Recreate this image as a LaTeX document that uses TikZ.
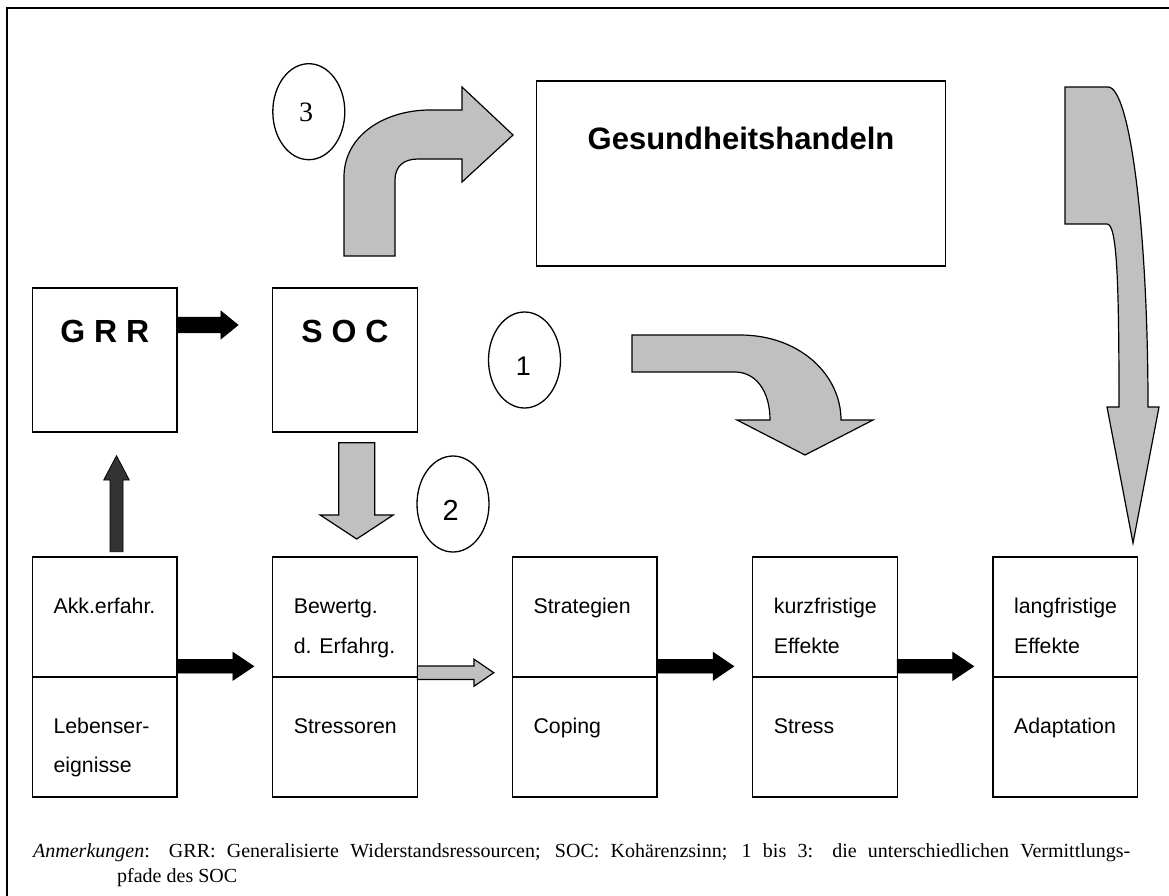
\documentclass[tikz,border=0pt]{standalone}
\usepackage{fontspec}
\setmainfont{Liberation Serif}
\newfontfamily\arial{Liberation Sans}
\usetikzlibrary{shapes.geometric,calc}
\definecolor{arrowgray}{RGB}{192,192,192}
\definecolor{darkarrow}{RGB}{51,51,51}
\newcommand\harrow[6]{%
  \draw[#6] let \p1=(#1), \p2=(#2) in
    (\x1,\y1+#4) -- (\x2-#3,\y1+#4) -- (\x2-#3,\y1+#5) -- (\x2,\y1) --
    (\x2-#3,\y1-#5) -- (\x2-#3,\y1-#4) -- (\x1,\y1-#4) -- cycle;}
\newcommand\darrow[6]{%
  \draw[#6] let \p1=(#1), \p2=(#2) in
    (\x1+#4,\y1) -- (\x1+#4,\y2+#3) -- (\x1+#5,\y2+#3) -- (\x1,\y2) --
    (\x1-#5,\y2+#3) -- (\x1-#4,\y2+#3) -- (\x1-#4,\y1) -- cycle;}
\newcommand\uarrow[6]{%
  \draw[#6] let \p1=(#1), \p2=(#2) in
    (\x1+#4,\y1) -- (\x1+#4,\y2-#3) -- (\x1+#5,\y2-#3) -- (\x1,\y2) --
    (\x1-#5,\y2-#3) -- (\x1-#4,\y2-#3) -- (\x1-#4,\y1) -- cycle;}
\begin{document}
\begin{tikzpicture}[x=1pt,y=-1pt,
  halfbox/.style={draw, line width=1.6pt, minimum width=144.7pt, minimum height=120pt, inner sep=0pt, outer sep=0pt},
  sqbox/.style={draw, line width=1.6pt, minimum width=144.7pt, minimum height=144pt, inner sep=0pt, outer sep=0pt},
  widebox/.style={draw, line width=1.6pt, minimum width=408.7pt, minimum height=185pt, inner sep=0pt, outer sep=0pt},
  lbl/.style={anchor=base west, inner sep=0pt, font=\arial\fontsize{21.3}{25}\selectfont},
  bigbold/.style={anchor=base, inner sep=0pt, font=\arial\bfseries\fontsize{32}{36}\selectfont},
  oval/.style={draw, ellipse, line width=1.3pt, minimum width=72pt, minimum height=96pt, inner sep=0pt},
  blockblack/.style={fill=black, draw=black, line width=0.8pt},
  blockgray/.style={fill=arrowgray, draw=black, line width=1.2pt},
  blockdark/.style={fill=darkarrow, draw=black, line width=0.8pt},
]
\useasboundingbox (0,0) rectangle (1169,895);
\draw[line width=2pt] (7,900) -- (7,8) -- (1175,8);

% top boxes
\node[sqbox] (grr) at (104.7,360) {};
\node[sqbox] (soc) at (345,360) {};
\node[widebox] (ges) at (741,173.5) {};
\node[bigbold] (grrt) at (104.7,342.3) {G R R};
\node[bigbold] (soct) at (345,342.3) {S O C};
\node[anchor=base, inner sep=0pt, font=\arial\bfseries\fontsize{31}{36}\selectfont] (gest) at (741,149) {Gesundheitshandeln};

% bottom boxes
\foreach \n/\x in {akk/104.7, bew/345, str/584.7, kur/825, lan/1065.2} {
  \node[halfbox] (\n T) at (\x,616.7) {};
  \node[halfbox] (\n B) at (\x,736.7) {};
}
\node[lbl] (l1) at ($(akkT.north west)+(21,56.3)$) {Akk.erfahr.};
\node[lbl] (l2) at ($(akkB.north west)+(21,56.3)$) {Lebenser-};
\node[lbl] (l3) at ($(akkB.north west)+(21,95.5)$) {eignisse};
\node[lbl] (l4) at ($(bewT.north west)+(21,56.3)$) {Bewertg.};
\node[lbl] (l5) at ($(bewT.north west)+(21,96.3)$) {d. Erfahrg.};
\node[lbl] (l6) at ($(bewB.north west)+(21,56.3)$) {Stressoren};
\node[lbl] (l7) at ($(strT.north west)+(21,56.3)$) {Strategien};
\node[lbl] (l8) at ($(strB.north west)+(21,56.3)$) {Coping};
\node[lbl] (l9) at ($(kurT.north west)+(21,56.3)$) {kurzfristige};
\node[lbl] (l10) at ($(kurT.north west)+(21,96.3)$) {Effekte};
\node[lbl] (l11) at ($(kurB.north west)+(21,56.3)$) {Stress};
\node[lbl] (l12) at ($(lanT.north west)+(21,56.3)$) {langfristige};
\node[lbl] (l13) at ($(lanT.north west)+(21,96.3)$) {Effekte};
\node[lbl] (l14) at ($(lanB.north west)+(21,56.3)$) {Adaptation};

% ellipses
\node[oval] (e3) at (308.8,111.7) {};
\node[anchor=base, inner sep=0pt, font=\fontsize{28}{32}\selectfont] (n3) at (306,121) {3};
\node[oval] (e1) at (524.5,360) {};
\node[anchor=base, inner sep=0pt, font=\arial\fontsize{27}{30}\selectfont] (n1) at (523.5,375) {1};
\node[oval] (e2) at (453,504) {};
\node[anchor=base, inner sep=0pt, font=\arial\fontsize{29}{32}\selectfont] (n2) at (450.8,520) {2};

% straight block arrows
\coordinate (a1s) at ($(grr.east)+(0,-35)$);
\coordinate (a1t) at ($(soc.west)+(-34.7,-35)$);
\harrow{a1s}{a1t}{17pt}{7.8pt}{13.8pt}{blockblack}
\coordinate (a2s) at ($(akkT.east)+(0,49.6)$);
\coordinate (a2t) at ($(bewT.west)+(-19,49.6)$);
\harrow{a2s}{a2t}{20.7pt}{6.7pt}{13.9pt}{blockblack}
\coordinate (a3s) at ($(bewT.east)+(0,56)$);
\coordinate (a3t) at ($(strT.west)+(-18.6,56)$);
\harrow{a3s}{a3t}{19.7pt}{6.7pt}{13.5pt}{blockgray}
\coordinate (a4s) at ($(strT.east)+(0,49.6)$);
\coordinate (a4t) at ($(kurT.west)+(-19,49.6)$);
\harrow{a4s}{a4t}{20.5pt}{6.7pt}{13.9pt}{blockblack}
\coordinate (a5s) at ($(kurT.east)+(0,49.6)$);
\coordinate (a5t) at ($(lanT.west)+(-19.3,49.6)$);
\harrow{a5s}{a5t}{20.7pt}{6.7pt}{13.9pt}{blockblack}
\coordinate (a6s) at ($(akkT.north)+(11.8,-5)$);
\coordinate (a6t) at ($(grr.south)+(11.8,23.7)$);
\uarrow{a6s}{a6t}{24.3pt}{6.5pt}{12.8pt}{blockdark}
\coordinate (a7s) at ($(soc.south)+(11.7,10.7)$);
\coordinate (a7t) at ($(bewT.north)+(11.7,-17.7)$);
\darrow{a7s}{a7t}{24pt}{18pt}{36.5pt}{blockgray}

% curved block arrows
\draw[blockgray] (344,256) -- (344,177) .. controls (344,135) and (385,110) .. (430,110)
  -- (462,110) -- (462,87) -- (513,135) -- (462,182) -- (462,159) -- (418,159)
  .. controls (404,159) and (395,166) .. (395,180) -- (395,256) -- cycle;
\draw[blockgray] (632,335) -- (740,335) .. controls (800,335) and (841,375) .. (841,420)
  -- (873,420) -- (805,455) -- (737,420) -- (770,420)
  .. controls (770,390) and (755,372) .. (735,372) -- (632,372) -- cycle;
\draw[blockgray] (1065,87) -- (1108,87) .. controls (1130,87) and (1148,230) .. (1148,407)
  -- (1159,407) -- (1133,543) -- (1107,407) -- (1119,407)
  .. controls (1119,280) and (1117,224) .. (1107,224) -- (1065,224) -- cycle;

% footnote
\node[anchor=base west, inner sep=0pt, font=\fontsize{20}{25}\selectfont] (note) at (33,857)
  {\parbox[t]{1097pt}{\noindent\hangindent=84pt\hangafter=1 \textit{Anmerkungen}: GRR: Generalisierte Widerstandsressourcen; SOC: Kohärenzsinn; 1 bis 3: die unterschiedlichen Vermittlungs-\linebreak pfade des SOC}};
\end{tikzpicture}
\end{document}
